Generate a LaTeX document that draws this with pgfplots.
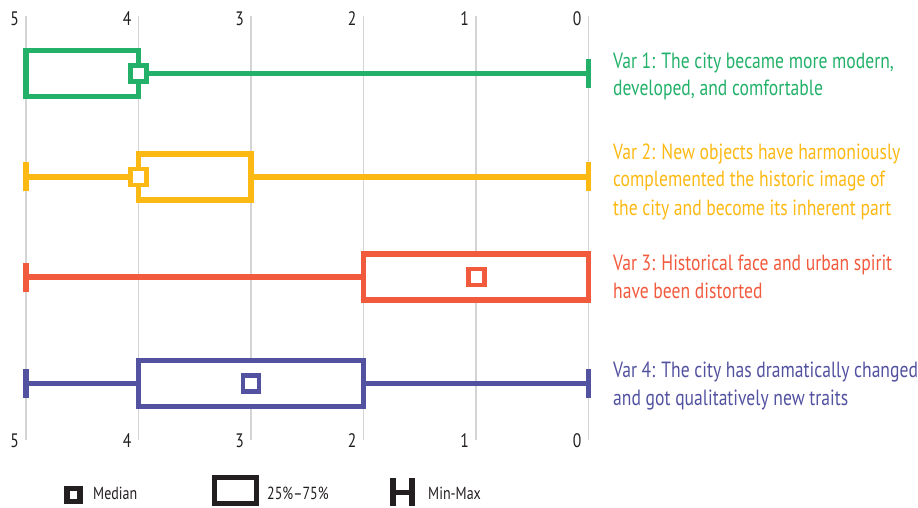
\documentclass[border=0pt]{standalone}
\usepackage{pgfplots}
\pgfplotsset{compat=1.18}
\usepackage{fontspec}
\setmainfont{PT Sans}[FakeStretch=0.8]
\definecolor{cgreen}{RGB}{35,177,106}
\definecolor{cyellow}{RGB}{253,185,19}
\definecolor{cred}{RGB}{241,90,61}
\definecolor{cpurple}{RGB}{82,82,160}
\definecolor{cdark}{RGB}{35,31,32}
\definecolor{cgrid}{RGB}{212,212,212}
\begin{document}
\begin{tikzpicture}[x=1pt,y=1pt]
\useasboundingbox (0,0) rectangle (918,507);
\begin{axis}[
  at={(26pt,0pt)}, anchor=south west,
  scale only axis, width=562.7pt, height=507pt,
  xmin=0, xmax=5, ymin=0, ymax=507,
  x dir=reverse,
  axis lines=none, clip=false,
  line join=miter, line cap=butt,
]
% grid lines
\addplot[cgrid, line width=1.5pt] coordinates {(5,491) (5,67)};
\addplot[cgrid, line width=1.5pt] coordinates {(4,491) (4,67)};
\addplot[cgrid, line width=1.5pt] coordinates {(3,491) (3,67)};
\addplot[cgrid, line width=1.5pt] coordinates {(2,491) (2,67)};
\addplot[cgrid, line width=1.5pt] coordinates {(1,491) (1,67)};
\addplot[cgrid, line width=1.5pt] coordinates {(0,491) (0,67)};
% tick labels
\foreach \v in {0,...,5}{
  \edef\tmp{\noexpand\node[anchor=base east, inner sep=0pt, xshift=-7pt, font=\noexpand\fontsize{19.5}{19.5}\noexpand\selectfont, text=cdark] at (axis cs:\v,481) {\v};
  \noexpand\node[anchor=base east, inner sep=0pt, xshift=-7pt, font=\noexpand\fontsize{19.5}{19.5}\noexpand\selectfont, text=cdark] at (axis cs:\v,60) {\v};}
  \tmp
}
% ---- Var 1 (y=433.5)
\addplot[cgreen, line width=5.2pt] coordinates {(4,433.5) (0,433.5)};
\addplot[cgreen, line width=5.2pt] coordinates {(0,419) (0,448)};
\addplot[cgreen, line width=5.2pt] coordinates {(5,456.5) (4,456.5) (4,410.5) (5,410.5)} -- cycle;
\addplot[only marks, mark=square*, mark size=8pt, mark options={draw=cgreen, fill=white, line width=4.8pt}] coordinates {(4,433.5)};
% ---- Var 2 (y=330)
\addplot[cyellow, line width=5.2pt] coordinates {(5,330) (0,330)};
\addplot[cyellow, line width=5.2pt] coordinates {(5,316) (5,345)};
\addplot[cyellow, line width=5.2pt] coordinates {(0,316) (0,345)};
\addplot[cyellow, line width=5.2pt, fill=white] coordinates {(4,353) (3,353) (3,307) (4,307)} -- cycle;
\addplot[only marks, mark=square*, mark size=8pt, mark options={draw=cyellow, fill=white, line width=4.8pt}] coordinates {(4,330)};
% ---- Var 3 (y=230)
\addplot[cred, line width=5.2pt] coordinates {(5,230) (2,230)};
\addplot[cred, line width=5.2pt] coordinates {(5,215.5) (5,244.5)};
\addplot[cred, line width=5.2pt, fill=white] coordinates {(2,253) (0,253) (0,207) (2,207)} -- cycle;
\addplot[only marks, mark=square*, mark size=8pt, mark options={draw=cred, fill=white, line width=4.8pt}] coordinates {(1,230)};
% ---- Var 4 (y=123.5)
\addplot[cpurple, line width=5.2pt] coordinates {(5,123.5) (0,123.5)};
\addplot[cpurple, line width=5.2pt] coordinates {(5,109) (5,138)};
\addplot[cpurple, line width=5.2pt] coordinates {(0,109) (0,138)};
\addplot[cpurple, line width=5.2pt, fill=white] coordinates {(4,146.5) (2,146.5) (2,100.5) (4,100.5)} -- cycle;
\addplot[only marks, mark=square*, mark size=8pt, mark options={draw=cpurple, fill=white, line width=4.8pt}] coordinates {(3,123.5)};
\end{axis}
% series labels
\begin{scope}[every node/.style={anchor=base west, inner sep=0pt, font=\fontsize{22}{26}\selectfont}]
\node[text=cgreen] at (613,438) {Var 1: The city became more modern,};
\node[text=cgreen] at (613,411) {developed, and comfortable};
\node[text=cyellow] at (613,348) {Var 2: New objects have harmoniously};
\node[text=cyellow] at (613,320) {complemented the historic image of};
\node[text=cyellow] at (613,292) {the city and become its inherent part};
\node[text=cred] at (613,237) {Var 3: Historical face and urban spirit};
\node[text=cred] at (613,209) {have been distorted};
\node[text=cpurple] at (613,130) {Var 4: The city has dramatically changed};
\node[text=cpurple] at (613,102) {and got qualitatively new traits};
\end{scope}
% legend
\draw[cdark, line width=5.5pt, fill=white] (67,5.5) rectangle (80,18.5);
\draw[cdark, line width=5pt, fill=white] (214.5,3.5) rectangle (256.5,29.5);
\draw[cdark, line width=6pt] (393,1) -- (393,29);
\draw[cdark, line width=6pt] (412,1) -- (412,29);
\draw[cdark, line width=5pt] (393,15) -- (412,15);
\begin{scope}[every node/.style={anchor=base west, inner sep=0pt, text=cdark, font=\fontsize{17.5}{17.5}\selectfont}]
\node at (93,8) {Median};
\node at (267,8) {25\%--75\%};
\node at (428,8) {Min-Max};
\end{scope}
\end{tikzpicture}
\end{document}
